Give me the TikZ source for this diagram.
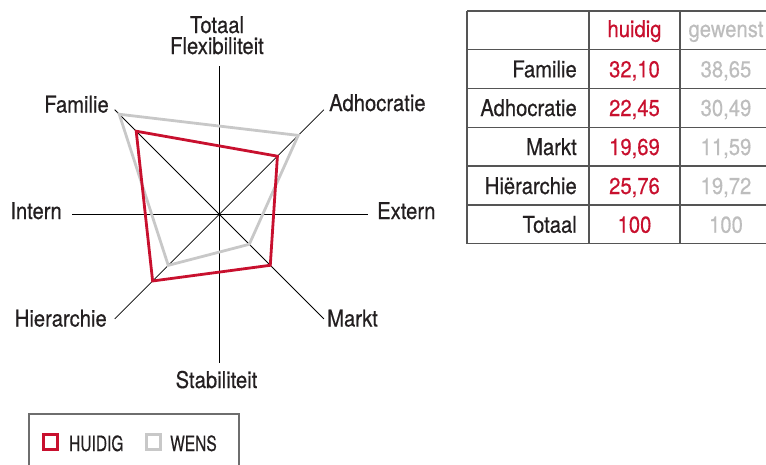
\documentclass[tikz,border=0pt]{standalone}
\usepackage{fontspec}
\setmainfont{TeX Gyre Heros}[FakeStretch=0.88,FakeBold=0.4]
\usetikzlibrary{calc}
\definecolor{cred}{HTML}{C8102E}
\definecolor{cgray}{HTML}{C8C8C8}
\definecolor{ctext}{HTML}{231F20}
\definecolor{cgtext}{HTML}{BDBDBD}
\definecolor{cline}{HTML}{555555}
\tikzset{
  lbl/.style={inner sep=0pt, text=ctext, font=\fontsize{23}{21}\selectfont},
  tcell/.style={inner sep=0pt, text=ctext, font=\fontsize{23}{21}\selectfont},
  tred/.style={tcell, text=cred},
  tgray/.style={tcell, text=cgtext},
  axisline/.style={draw=black, line width=0.8pt},
  redpoly/.style={draw=cred, line width=2.8pt, line join=miter},
  graypoly/.style={draw=cgray, line width=2.8pt, line join=miter},
  gridline/.style={draw=cline, line width=1.3pt},
  legbox/.style={draw=cline!85, line width=1.2pt},
  legtext/.style={lbl, font=\fontsize{21}{20}\selectfont, xscale=0.84},
}
\begin{document}
\begin{tikzpicture}[x=1pt, y=-1pt]
\useasboundingbox (0,0) rectangle (766,464);
\begin{scope}
\clip (0,0) rectangle (766,464);
% ---- radar chart ----
\coordinate (C) at (219.3,214.3);
\coordinate (eT) at (219.3,66);
\coordinate (eS) at (219.3,363);
\coordinate (eI) at (72,214.3);
\coordinate (eE) at (368,214.3);
\coordinate (eF) at (114.7,109.7);
\coordinate (eA) at (323.9,109.7);
\coordinate (eM) at (323.9,318.9);
\coordinate (eH) at (114.7,318.9);
\foreach \e in {eT,eS,eI,eE,eF,eA,eM,eH} \draw[axisline] (C) -- (\e);
% data points (3.66 px per unit)
\coordinate (gF) at ($(C)+(-135:141.5)$);
\coordinate (gA) at ($(C)+(-45:111.6)$);
\coordinate (gM) at ($(C)+(45:42.4)$);
\coordinate (gH) at ($(C)+(135:72.2)$);
\coordinate (rF) at ($(C)+(-135:117.5)$);
\coordinate (rA) at ($(C)+(-45:82.2)$);
\coordinate (rM) at ($(C)+(45:72.1)$);
\coordinate (rH) at ($(C)+(135:94.3)$);
\draw[graypoly] (gF) -- (gA) -- (gM) -- (gH) -- cycle;
\draw[redpoly] (rF) -- (rA) -- (rM) -- (rH) -- cycle;
% labels
\node[lbl, anchor=base, align=center] (lT) at (217,54) {Totaal\\Flexibiliteit};
\node[lbl, anchor=base] (lS) at (216.5,388) {Stabiliteit};
\node[lbl, anchor=base east] (lI) at (62,219) {Intern};
\node[lbl, anchor=base west] (lE) at (377,219) {Extern};
\node[lbl, anchor=base east] (lF) at (109,112.5) {Familie};
\node[lbl, anchor=base west] (lA) at (329,111) {Adhocratie};
\node[lbl, anchor=base east] (lH) at (107,326.5) {Hierarchie};
\node[lbl, anchor=base west] (lM) at (327,326.5) {Markt};
% ---- table ----
\foreach \y in {11,49.5,88.3,127.2,166,205,243.7}
  \draw[gridline] (467,\y) -- (772,\y);
\foreach \x in {467,589,680,772}
  \draw[gridline] (\x,11) -- (\x,243.7);
\node[tred, anchor=base] (h1) at (634.5,37) {huidig};
\node[tgray, anchor=base] (h2) at (726,37) {gewenst};
\node[tcell, anchor=base east] (r1) at (577,77.3) {Familie};
\node[tred, anchor=base] (r1a) at (634.5,77.3) {32,10};
\node[tgray, anchor=base] (r1b) at (726,77.3) {38,65};
\node[tcell, anchor=base east] (r2) at (577,116) {Adhocratie};
\node[tred, anchor=base] (r2a) at (634.5,116) {22,45};
\node[tgray, anchor=base] (r2b) at (726,116) {30,49};
\node[tcell, anchor=base east] (r3) at (577,155) {Markt};
\node[tred, anchor=base] (r3a) at (634.5,155) {19,69};
\node[tgray, anchor=base] (r3b) at (726,155) {11,59};
\node[tcell, anchor=base east] (r4) at (577,194) {Hiërarchie};
\node[tred, anchor=base] (r4a) at (634.5,194) {25,76};
\node[tgray, anchor=base] (r4b) at (726,194) {19,72};
\node[tcell, anchor=base east] (r5) at (577,232.7) {Totaal};
\node[tred, anchor=base] (r5a) at (634.5,232.7) {100};
\node[tgray, anchor=base] (r5b) at (726,232.7) {100};
% ---- legend ----
\draw[legbox] (29,414) rectangle (239,480);
\draw[draw=cred, line width=2.8pt] (43.5,434.5) rectangle (57.5,449.5);
\draw[draw=cgray, line width=2.8pt] (146.5,434.5) rectangle (160.5,449.5);
\node[legtext, anchor=base west] (k1) at (69,451) {HUIDIG};
\node[legtext, anchor=base west] (k2) at (170,451) {WENS};
\end{scope}
\end{tikzpicture}
\end{document}
